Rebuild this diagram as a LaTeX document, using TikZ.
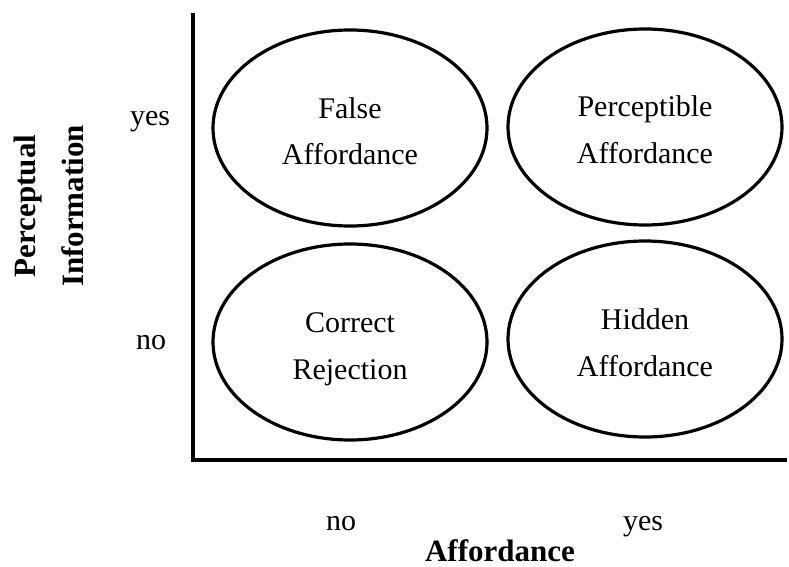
\documentclass[tikz,border=0pt]{standalone}
\usepackage{fontspec}
\setmainfont{Liberation Serif}
\usetikzlibrary{shapes.geometric}
% two centred lines whose baseline is the first line's baseline
\newcommand{\twolines}[2]{\begin{tabular}[t]{@{}c@{}}#1\\#2\end{tabular}}
\begin{document}
\begin{tikzpicture}[x=1pt,y=-1pt,
  cell/.style={ellipse,draw,line width=3.2pt,minimum width=274pt,minimum height=196pt,
    inner sep=0pt,font=\fontsize{30}{47}\selectfont,text height=20pt,text depth=40pt},
  tick/.style={font=\fontsize{30}{36}\selectfont,anchor=base,inner sep=0pt},
  axis/.style={line width=4pt},
  axistitle/.style={font=\bfseries\fontsize{31}{48}\selectfont,align=center,inner sep=0pt}]
\useasboundingbox (0,0) rectangle (789,567);

% axes
\coordinate (ytop) at (193,13);
\coordinate (origin) at (193,460);
\coordinate (xend) at (787,460);
\draw[axis] (ytop) -- (origin) -- (xend);

% the four quadrants
\node[cell] (false) at (350,128) {\twolines{False}{Affordance}};
\node[cell] (perceptible) at (645,127) {\twolines{Perceptible}{Affordance}};
\node[cell] (correct) at (350,342) {\twolines{Correct}{Rejection}};
\node[cell] (hidden) at (645,339) {\twolines{Hidden}{Affordance}};

% tick labels
\node[tick] (yyes) at (150,125) {yes};
\node[tick] (yno) at (151,349) {no};
\node[tick] (xno) at (341,530) {no};
\node[tick] (xyes) at (643,530) {yes};

% axis titles
\node[axistitle,anchor=base] (xtitle) at (500,561) {Affordance};
\node[axistitle,rotate=90] (ytitle) at (48.5,206) {Perceptual\\Information};
\end{tikzpicture}
\end{document}
